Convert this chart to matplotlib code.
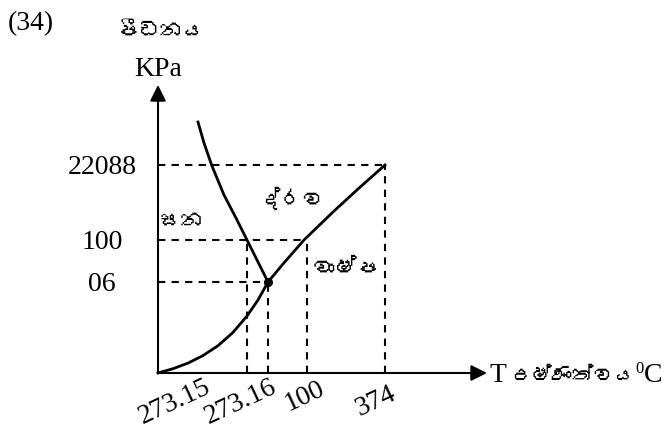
import matplotlib
matplotlib.use('Agg')
import matplotlib.pyplot as plt
from matplotlib import font_manager
from matplotlib.ft2font import FT2Font

# phase diagram of water (schematic)
x_ticks = [8.9, 11.0, 14.9, 22.7]
x_tick_labels = ['273.15', '273.16', '100', '374']
y_ticks = [9.1, 13.3, 20.8]
y_tick_labels = ['06', '100', '22088']
guide_top = [13.3, 9.1, 13.3, 20.8]   # pressure level each temperature guide reaches

solid_liquid_x = [4.0, 4.6, 5.4, 6.6, 7.8, 8.9, 11.0]
solid_liquid_y = [25.1, 23.0, 20.7, 17.8, 15.5, 13.3, 9.1]
solid_vapour_x = [0.0, 1.5, 3.0, 4.5, 6.0, 7.5, 8.9, 10.0, 11.0]
solid_vapour_y = [0.0, 0.43, 0.99, 1.74, 2.73, 4.06, 5.7, 7.3, 9.1]
liquid_vapour_x = [11.0, 12.5, 14.6, 17.5, 20.0, 22.7]
liquid_vapour_y = [9.1, 10.9, 13.3, 16.1, 18.4, 20.8]
triple_x, triple_y = 11.0, 9.1

regions = ['ද්රව', 'ඝන', 'වාෂ්ප']


def sinhala_family():
    for f in font_manager.fontManager.ttflist:
        try:
            if 0x0DB4 in FT2Font(f.fname).get_charmap():
                return f.name
        except Exception:
            pass
    return None


si = sinhala_family()
serif = ['Liberation Serif'] + ([si] if si else []) + ['DejaVu Sans']
sin_fam = ([si] if si else []) + ['Liberation Serif', 'DejaVu Sans']
plt.rcParams['font.family'] = serif

fig = plt.figure(figsize=(6.7, 4.3), dpi=100)
ax = fig.add_axes([0, 0, 1, 1])
ax.set_xlim(-15.8, 51.2)
ax.set_ylim(-5.7, 37.3)
ax.axis('off')

# axes with arrows
arrow = dict(arrowstyle='-|>,head_length=0.6,head_width=0.3', color='black',
             lw=1.5, mutation_scale=16, shrinkA=0, shrinkB=0)
ax.annotate('', xy=(32.9, 0), xytext=(0, 0), arrowprops=arrow)
ax.annotate('', xy=(0, 28.8), xytext=(0, 0), arrowprops=arrow)

dash = dict(color='black', lw=1.5, linestyle=(0, (3.5, 3.0)))
for xv, top in zip(x_ticks, guide_top):
    ax.plot([xv, xv], [0, top], **dash)
for yv in y_ticks:
    xs = [xv for xv, top in zip(x_ticks, guide_top) if top == yv]
    ax.plot([0, max(xs) - 0.3], [yv, yv], **dash)

ax.plot(solid_liquid_x, solid_liquid_y, color='black', lw=2)
ax.plot(solid_vapour_x, solid_vapour_y, color='black', lw=2)
ax.plot(liquid_vapour_x, liquid_vapour_y, color='black', lw=2)
ax.plot(triple_x, triple_y, 'o', color='black', markersize=5.5)

# tick labels
x_label_pos = [(1.7, -2.9), (8.3, -2.9), (14.7, -2.3), (21.8, -2.8)]
for (px, py), lab in zip(x_label_pos, x_tick_labels):
    ax.text(px, py, lab, fontsize=20, rotation=25, rotation_mode='anchor',
            ha='center', va='center')
for yv, lab in zip(y_ticks, y_tick_labels):
    ax.text(-5.6, yv - 0.9, lab, fontsize=20, ha='center', va='baseline')

# titles
ax.text(-12.7, 34.9, '(34)', fontsize=20, ha='center', va='center')
ax.text(0.3, 34.1, 'පීඩනය', fontsize=16, ha='center', va='center', family=sin_fam)
ax.text(0, 30.4, 'KPa', fontsize=20, ha='center', va='center')

region_pos = [(13.3, 17.5), (2.4, 15.1), (18.8, 10.4)]
for (px, py), lab in zip(region_pos, regions):
    ax.text(px, py, lab, fontsize=16, ha='center', va='center', family=sin_fam)

# x axis title: T, Sinhala word, superscript 0, C
base = -0.9
t1 = ax.text(33.1, base, 'T', fontsize=20, ha='left', va='baseline')
t2 = ax.annotate('උෂ්ණත්වය', xy=(1, base), xycoords=(t1, 'data'), xytext=(3, 0),
                 textcoords='offset points', fontsize=15, ha='left', va='baseline',
                 family=sin_fam)
t3 = ax.annotate('0', xy=(1, 1.2), xycoords=(t2, 'data'), xytext=(0, 0),
                 textcoords='offset points', fontsize=12, ha='left', va='top')
ax.annotate('C', xy=(1, base), xycoords=(t3, 'data'), xytext=(0.5, 0),
            textcoords='offset points', fontsize=20, ha='left', va='baseline')

fig.savefig('out.png', dpi=100)
